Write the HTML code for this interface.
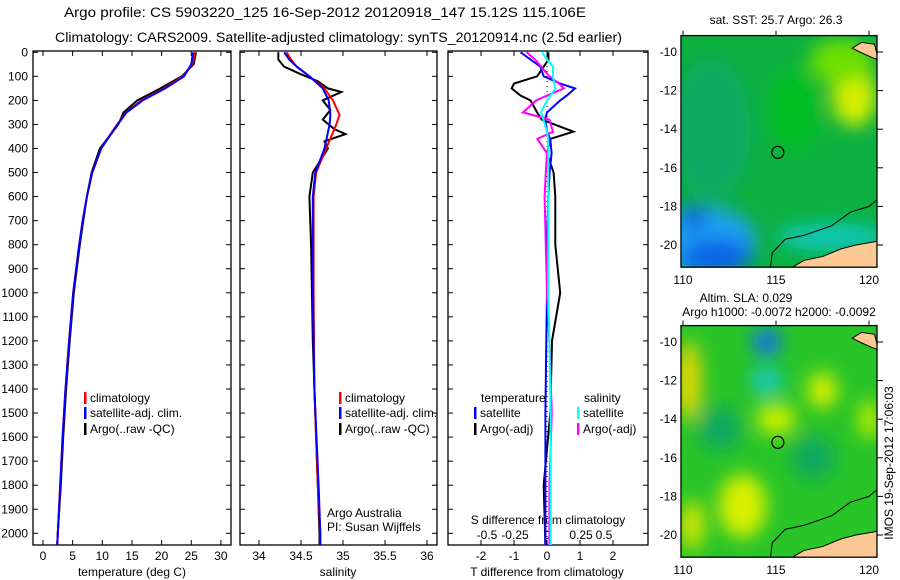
<!DOCTYPE html>
<html><head><meta charset="utf-8"><style>
html,body{margin:0;padding:0;background:#fff;}
svg{display:block;font-family:"Liberation Sans",sans-serif;}
</style></head><body>
<svg id="fig" width="900" height="580" viewBox="0 0 900 580">
<defs>
<filter id="blur" x="-30%" y="-30%" width="160%" height="160%"><feGaussianBlur stdDeviation="9"/></filter>
<clipPath id="clipT"><rect x="681" y="35" width="196" height="232"/></clipPath>
<clipPath id="clipB"><rect x="681" y="325" width="196" height="232"/></clipPath>
<clipPath id="cp1"><rect x="33" y="51" width="198" height="494"/></clipPath>
<clipPath id="cp2"><rect x="240" y="51" width="197" height="494"/></clipPath>
<clipPath id="cp3"><rect x="448" y="51" width="200" height="494"/></clipPath>
</defs>
<text x="64" y="17" font-size="13.5" textLength="522" lengthAdjust="spacingAndGlyphs">Argo profile: CS 5903220_125 16-Sep-2012 20120918_147 15.12S 115.106E</text>
<text x="55" y="42" font-size="13.5" textLength="567" lengthAdjust="spacingAndGlyphs">Climatology: CARS2009. Satellite-adjusted climatology: synTS_20120914.nc (2.5d earlier)</text>
<g id="panels"></g>
<g id="maps"></g>
<text transform="translate(893,463) rotate(-90)" font-size="12" text-anchor="middle">IMOS 19-Sep-2012 17:06:03</text>
</svg>
<script>
// ---- data ----
const tDepth = [0,50,100,150,200,250,300,400,500,600,700,800,1000,1200,1400,1600,1800,2000,2050];
const tClim  = [25.6,25.2,23.6,20.4,16.6,14.0,12.5,9.8,8.3,7.4,6.7,6.1,5.1,4.4,3.8,3.3,2.9,2.5,2.4];
const tSat   = [25.3,25.0,23.8,20.6,16.8,14.1,12.6,9.8,8.3,7.4,6.7,6.1,5.1,4.4,3.8,3.3,2.9,2.5,2.4];
const tArgo  = [25.8,25.4,23.4,19.8,15.9,13.6,12.7,9.6,8.2,7.4,6.8,6.2,5.2,4.5,3.9,3.4,3.0,2.5,2.4];
const sDepth = [0,30,60,100,150,200,260,300,400,500,600,700,1000,1400,1800,2000,2050];
const sClim  = [34.33,34.38,34.45,34.6,34.78,34.88,34.96,34.92,34.80,34.68,34.65,34.65,34.65,34.66,34.70,34.73,34.73];
const sSat   = [34.30,34.36,34.45,34.6,34.76,34.83,34.85,34.84,34.78,34.67,34.64,34.64,34.64,34.66,34.71,34.73,34.73];
const sArgoDepth = [0,30,60,90,120,150,165,200,240,280,320,340,370,400,500,600,800,1200,1600,2000,2050];
const sArgo  = [34.23,34.23,34.30,34.49,34.70,34.82,34.98,34.76,34.85,34.76,34.90,35.03,34.78,34.82,34.64,34.60,34.62,34.64,34.68,34.72,34.72];
const dDepth = [0,30,60,100,130,150,180,200,250,280,330,360,420,500,600,800,1000,1200,1500,1800,2050];
const dTSat  = [-0.8,-0.5,-0.2,-0.1,0.4,0.85,0.6,0.4,0.0,-0.06,0.0,0.1,0.14,0.08,0.04,0.0,0.0,-0.02,-0.05,-0.05,-0.05];
const dTArgo = [0.04,0.05,-0.1,-0.3,-1.0,-1.07,-0.8,-0.5,-0.3,-0.16,0.8,0.1,0.0,0.2,0.25,0.25,0.4,0.15,0.1,-0.1,-0.05];
const dSSat  = [-0.04,0.0,0.05,0.05,0.06,0.07,0.03,0.0,-0.05,-0.03,0.0,0.01,0.01,0.01,0.01,0.01,0.01,0.02,0.03,0.03,0.03];
const dSArgo = [-0.17,-0.1,-0.05,0.02,0.1,0.14,0.0,-0.09,-0.2,0.02,0.05,-0.08,0.0,-0.01,-0.02,-0.01,0.0,0.02,0.04,0.02,0.02];
const depthTicks = [0,100,200,300,400,500,600,700,800,900,1000,1100,1200,1300,1400,1500,1600,1700,1800,1900,2000];
const tempTicks = [0,5,10,15,20,25,30];
const salTicks = [34,34.5,35,35.5,36];
const tdTicks = [-2,-1,0,1,2];
const sdTickLabels = ['-0.5','-0.25','0','0.25','0.5'];
const sdTickVals = [-0.5,-0.25,0,0.25,0.5];

const NS='http://www.w3.org/2000/svg';
function mk(tag, attrs, parent, txt){const e=document.createElementNS(NS,tag);for(const k in attrs)e.setAttribute(k,attrs[k]);if(txt!==undefined)e.textContent=txt;parent.appendChild(e);return e;}
const G=document.getElementById('panels');
const yD = d => 52.3 + d*0.2405;
const xT = v => 43 + v*5.93;
const xS = v => 259 + (v-34)*84;
const xTd = v => 547 + v*33;
const xSd = v => 547 + v*120;

function frame(x0,x1,name){
  const r=mk('rect',{x:x0,y:51,width:x1-x0,height:494,fill:'none',stroke:'#000','stroke-width':1.3},G);
  
  
  depthTicks.forEach(d=>{
    mk('line',{x1:x0,x2:x0+5,y1:yD(d),y2:yD(d),stroke:'#000'},G);
    mk('line',{x1:x1,x2:x1-5,y1:yD(d),y2:yD(d),stroke:'#000'},G);
  });
}
function series(xs,ds,xf,color,clip,name,w){
  let p='';ds.forEach((d,i)=>{p+=(i?'L':'M')+xf(xs[i]).toFixed(1)+','+yD(d).toFixed(1);});
  const e=mk('path',{d:p,fill:'none',stroke:color,'stroke-width':w||2,'clip-path':'url(#'+clip+')'},G);
  
  
}
function xticks(vals,labels,xf,x0,x1,y,name){
  vals.forEach((v,i)=>{const x=xf(v);
    mk('line',{x1:x,x2:x,y1:545,y2:540,stroke:'#000'},G);
    mk('line',{x1:x,x2:x,y1:51,y2:56,stroke:'#000'},G);
    const t=mk('text',{x:x,y:y,'font-size':12,'text-anchor':'middle'},G,labels[i]);
    
    
  });
}
function label(x,y,s,name,anchor){const t=mk('text',{x:x,y:y,'font-size':12,'text-anchor':anchor||'start'},G,s);
  
  return t;}
function legend(x,y,color,s,name){
  const r=mk('rect',{x:x,y:y-10,width:2.5,height:12,fill:color},G);
  
  
  label(x+6,y,s,name);
}
depthTicks.forEach(d=>{const t=mk('text',{x:28,y:yD(d)+4,'font-size':12,'text-anchor':'end'},G,String(d));
  
  });

frame(33,231,'temperature-panel');
frame(240,437,'salinity-panel');
frame(448,648,'difference-panel');
xticks(tempTicks,tempTicks.map(String),xT,33,231,560,'temperature');
xticks(salTicks,salTicks.map(String),xS,240,437,560,'salinity');
xticks(tdTicks,tdTicks.map(String),xTd,448,648,560,'t-diff');
sdTickVals.forEach((v,i)=>{const t=mk('text',{x:[487,515,547,581,604][i],y:539,'font-size':12,'text-anchor':'middle'},G,sdTickLabels[i]);
  
  });
label(132,576,'temperature (deg C)','temperature-axis-title','middle');
label(338,576,'salinity','salinity-axis-title','middle');
label(547,576,'T difference from climatology','t-diff-axis-title','middle');
label(548,524,'S difference from climatology','s-diff-axis-title','middle');

series(tArgo,tDepth,xT,'#000','cp1','temp-argo');
series(tClim,tDepth,xT,'#f00','cp1','temp-climatology');
series(tSat,tDepth,xT,'#00f','cp1','temp-satellite');
series(sArgo,sArgoDepth,xS,'#000','cp2','sal-argo');
series(sClim,sDepth,xS,'#f00','cp2','sal-climatology');
series(sSat,sDepth,xS,'#00f','cp2','sal-satellite');
const z=mk('line',{x1:547,x2:547,y1:51,y2:545,stroke:'#000','stroke-dasharray':'1,4'},G);


series(dTArgo,dDepth,xTd,'#000','cp3','tdiff-argo');
series(dTSat,dDepth,xTd,'#00f','cp3','tdiff-satellite');
series(dSArgo,dDepth,xSd,'#f0f','cp3','sdiff-argo');
series(dSSat,dDepth,xSd,'#0ff','cp3','sdiff-satellite');

legend(84,402,'#f00','climatology','temp-legend-climatology');
legend(84,417,'#00f','satellite-adj. clim.','temp-legend-satellite');
legend(84,433,'#000','Argo(..raw -QC)','temp-legend-argo');
legend(339,402,'#f00','climatology','sal-legend-climatology');
legend(339,417,'#00f','satellite-adj. clim.','sal-legend-satellite');
legend(339,433,'#000','Argo(..raw -QC)','sal-legend-argo');
label(481,402,'temperature','diff-legend-temperature-head');
label(584,402,'salinity','diff-legend-salinity-head');
legend(474,417,'#00f','satellite','diff-legend-t-satellite');
legend(474,433,'#000','Argo(-adj)','diff-legend-t-argo');
legend(577,417,'#0ff','satellite','diff-legend-s-satellite');
legend(577,433,'#f0f','Argo(-adj)','diff-legend-s-argo');
label(327,517,'Argo Australia','argo-australia-label');
label(327,531,'PI: Susan Wijffels','pi-label');

// ---- maps ----
const M=document.getElementById('maps');
const lon = v => 683 + (v-110)*18.6;
const latT = v => 52 + (-10 - v)*19.3;
const latB = v => 342 + (-10 - v)*19.3;
const latTicks=[-10,-12,-14,-16,-18,-20];
const lonTicks=[110,115,120];
const topBlobs=[[111.5,-14,40,70,'#10a864'],[111,-19.8,55,35,'#1aa0f0'],[111.8,-20.6,35,18,'#0a64e8'],[110.6,-18.6,12,12,'#1060e0'],[119.2,-12.3,22,30,'#d8f000'],[118.5,-10.5,32,22,'#70e000'],[116,-13,25,40,'#00c020'],[118,-19.6,55,14,'#10c8b8']];
const botBlobs=[[114.5,-10,14,14,'#1070f0'],[114.5,-12,16,14,'#18c8c0'],[110.3,-12,12,40,'#f0d800'],[110.5,-19.5,12,25,'#d8e800'],[113.2,-18.5,24,32,'#d8f000'],[115,-14,20,16,'#c8f000'],[117.5,-12.5,15,18,'#d8f000'],[112,-14.5,22,22,'#10a860'],[117,-16,22,22,'#10a860'],[120,-14,10,20,'#c0f000']];
function map(lat,clip,base,blobs,name,titleLines){
  const g=mk('g',{'clip-path':'url(#'+clip+')'},M);
  
  
  mk('rect',{x:681,y:lat(-9),width:196,height:240,fill:base},g);
  const bg=mk('g',{filter:'url(#blur)'},g);
  blobs.forEach(b=>mk('ellipse',{cx:lon(b[0]),cy:lat(b[1]),rx:b[2],ry:b[3],fill:b[4]},bg));
  const l1=mk('path',{d:`M${lon(119.1)},${lat(-9.8)} L${lon(119.6)},${lat(-9.5)} L${lon(120.3)},${lat(-9.6)} L${lon(120.5)},${lat(-10.4)} L${lon(120.2)},${lat(-10.3)} L${lon(119.5)},${lat(-10)} Z`,fill:'#fcc894',stroke:'#000','stroke-width':1},g);
  
  
  const l2=mk('path',{d:`M${lon(115.8)},${lat(-21.2)} L${lon(116.5)},${lat(-20.8)} L${lon(117.5)},${lat(-20.6)} L${lon(118.5)},${lat(-20.2)} L${lon(119.3)},${lat(-20.0)} L${lon(120.5)},${lat(-19.8)} L${lon(120.5)},${lat(-21.5)} L${lon(115.8)},${lat(-21.5)} Z`,fill:'#fcc894',stroke:'#000','stroke-width':1},g);
  
  
  const c=mk('path',{d:`M${lon(114.7)},${lat(-21.2)} L${lon(114.8)},${lat(-20.4)} L${lon(115.5)},${lat(-19.7)} L${lon(116.5)},${lat(-19.5)} L${lon(118)},${lat(-19)} L${lon(119)},${lat(-18.3)} L${lon(120)},${lat(-18)} L${lon(120.5)},${lat(-17.6)}`,fill:'none',stroke:'#000','stroke-width':1},g);
  
  
  const ci=mk('circle',{cx:lon(115.1),cy:lat(-15.2),r:6,fill:'none',stroke:'#000','stroke-width':1.2},M);
  
  
  const y0=lat(-9.15), y1=lat(-21.15);
  const f=mk('rect',{x:681,y:y0,width:196,height:y1-y0,fill:'none',stroke:'#000','stroke-width':1.3},M);
  
  
  latTicks.forEach(v=>{const y=lat(v);
    mk('line',{x1:877,x2:883,y1:y,y2:y,stroke:'#000'},M);
    const t=mk('text',{x:677,y:y+4,'font-size':12,'text-anchor':'end'},M,String(v));
    
    });
  lonTicks.forEach(v=>{const x=lon(v);
    mk('line',{x1:x,x2:x,y1:y0,y2:y0-5,stroke:'#000'},M);
    const t=mk('text',{x:x,y:y1+17,'font-size':12,'text-anchor':'middle'},M,String(v));
    
    });
  titleLines.forEach((s,i)=>{const t=mk('text',{x:s[1],y:s[2],'font-size':12,'text-anchor':'middle'},M,s[0]);
    
    });
}
map(latT,'clipT','#0cb040',topBlobs,'sst-map',[['sat. SST: 25.7  Argo: 26.3',776,24]]);
map(latB,'clipB','#28c428',botBlobs,'sla-map',[['Altim. SLA: 0.029',746,302],['Argo h1000: -0.0072 h2000: -0.0092',779,316]]);
</script>
</body></html>
